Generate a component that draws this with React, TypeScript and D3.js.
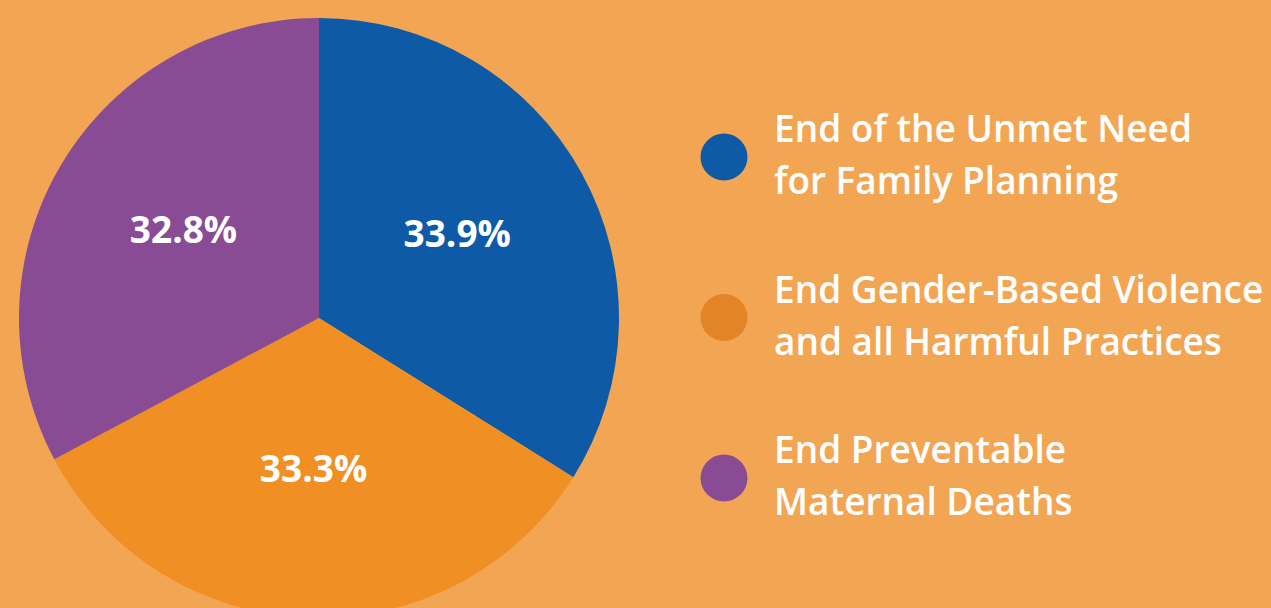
import React from 'react';
import * as d3 from 'd3';

// slice data, clockwise from 12 o'clock
const categories = [
  'End of the Unmet Need for Family Planning',
  'End Gender-Based Violence and all Harmful Practices',
  'End Preventable Maternal Deaths'
];
const shares = [33.9, 33.3, 32.8];
const legendLines = [
  ['End of the Unmet Need', 'for Family Planning'],
  ['End Gender-Based Violence', 'and all Harmful Practices'],
  ['End Preventable', 'Maternal Deaths']
];
const sliceColors = ['#0E5AA7', '#EF8F24', '#884B94'];
const legendColors = ['#0E5AA7', '#E38426', '#884B94'];

const width = 1271;
const height = 608;
const bg = '#F2A654';
const font = "'Open Sans', 'Noto Sans', sans-serif";

export default function App(): JSX.Element {
  const cx = 319;
  const cy = 318;
  const radius = 300;

  const pie = d3
    .pie<number>()
    .sort(null)
    .value((d) => d);
  const arcs = pie(shares);
  const arc = d3.arc<d3.PieArcDatum<number>>().innerRadius(0).outerRadius(radius);
  // labels sit roughly half way out
  const labelArc = d3.arc<d3.PieArcDatum<number>>().innerRadius(158).outerRadius(158);

  // legend rows
  const legendY = d3.scalePoint<number>().domain([0, 1, 2]).range([157, 478]);

  return (
    <svg
      width={width}
      height={height}
      style={{ position: 'absolute', left: 0, top: 0, background: bg }}
    >
      <rect width={width} height={height} fill={bg} />
      <g transform={`translate(${cx},${cy})`}>
        {arcs.map((a, i) => (
          <path key={categories[i]} d={arc(a) || ''} fill={sliceColors[i]} />
        ))}
        {arcs.map((a, i) => {
          const [x, y] = labelArc.centroid(a);
          return (
            <text
              key={'l' + i}
              x={x}
              y={y}
              dy="0.16em"
              textAnchor="middle"
              fill="#fff"
              fontFamily={font}
              fontWeight={700}
              fontSize={37}
            >
              {shares[i].toFixed(1)}%
            </text>
          );
        })}
      </g>
      <g className="legend">
        {categories.map((c, i) => {
          const y = legendY(i) as number;
          return (
            <g key={c} transform={`translate(0,${y})`}>
              <circle cx={724} cy={0} r={23.5} fill={legendColors[i]} />
              {legendLines[i].map((line, j) => (
                <text
                  key={j}
                  x={774}
                  y={j === 0 ? -15 : 37}
                  fill="#fff"
                  fontFamily={font}
                  fontWeight={600}
                  fontSize={37}
                >
                  {line}
                </text>
              ))}
            </g>
          );
        })}
      </g>
    </svg>
  );
}
